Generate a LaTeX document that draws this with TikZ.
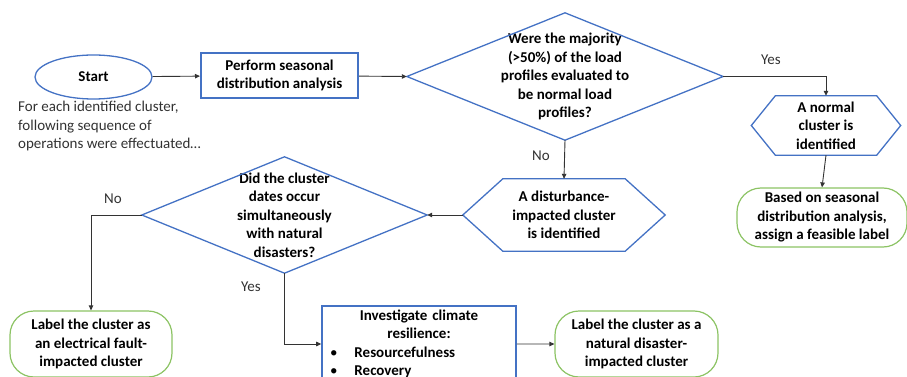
\documentclass[tikz,border=0pt]{standalone}
\usepackage{fontspec}
\setmainfont{Carlito}
\usetikzlibrary{arrows.meta,positioning,shapes.geometric}

\definecolor{flowblue}{RGB}{68,114,196}
\definecolor{flowgreen}{RGB}{140,195,100}
\definecolor{notegray}{RGB}{50,50,50}

\newcommand{\hexframe}[2]{\draw[blueline] (#1.west) -- ([xshift=#2]#1.north west) -- ([xshift=-#2]#1.north east) -- (#1.east) -- ([xshift=-#2]#1.south east) -- ([xshift=#2]#1.south west) -- cycle;}
\newcommand{\diamframe}[1]{\draw[blueline] (#1.west) -- (#1.north) -- (#1.east) -- (#1.south) -- cycle;}

\begin{document}
\begin{tikzpicture}[x=1pt,y=-1pt,
  txt/.style={font=\bfseries\fontsize{15}{18.5}\selectfont,align=center,inner sep=0pt},
  blueline/.style={draw=flowblue,line width=1.3pt},
  term/.style={txt,ellipse,blueline,minimum width=117pt,minimum height=44pt},
  proc/.style={txt,rectangle,draw=flowblue,line width=2pt,inner sep=4pt},
  decide/.style={txt,rectangle},
  outcome/.style={txt,draw=flowgreen,line width=1.2pt,rounded corners=24pt},
  flow/.style={-{Triangle[length=5pt,width=4.5pt]},line width=0.9pt,black!80},
  lbl/.style={font=\fontsize{15}{18.5}\selectfont,text=notegray,inner sep=0pt}]

  \useasboundingbox (0,0) rectangle (907,377);
  \clip (0,0) rectangle (907,377);

  \node[term] (start) at (93.5,77) {Start};
  \node[lbl,align=left,anchor=north west] (note) at (18,101) {For each identified cluster,\\following sequence of\\operations were effectuated\ldots};
  \node[proc,minimum width=157pt,minimum height=45pt] (seasonal) at (279.5,75.5) {Perform seasonal\\distribution analysis};

  \node[decide,minimum width=316pt,minimum height=127pt] (majority) at (565,76.5) {Were the majority\\(>50\%) of the load\\profiles evaluated to\\be normal load\\profiles?};
  \diamframe{majority}

  \node[txt,minimum width=149pt,minimum height=59pt] (normal) at (826,125.5) {A normal\\cluster is\\identified};
  \hexframe{normal}{24pt}
  \node[outcome,minimum width=170pt,minimum height=59pt] (feasible) at (822,217.5) {Based on seasonal\\distribution analysis,\\assign a feasible label};

  \node[txt,minimum width=202pt,minimum height=72pt] (disturb) at (564,215) {A disturbance-\\impacted cluster\\is identified};
  \hexframe{disturb}{40pt}

  \node[decide,minimum width=285pt,minimum height=116pt] (disaster) at (284.5,215) {Did the cluster\\dates occur\\simultaneously\\with natural\\disasters?};
  \diamframe{disaster}

  \node[outcome,minimum width=162pt,minimum height=66pt] (fault) at (91,344) {Label the cluster as\\an electrical fault-\\impacted cluster};
  \node[proc,line width=1.6pt,anchor=north,minimum width=194pt,text width=186pt] (resilience) at (419,305) {Investigate climate\\resilience:\\\makebox[186pt][l]{\hspace{4pt}{\mdseries\textbullet}\hspace{17pt}Resourcefulness}\\\makebox[186pt][l]{\hspace{4pt}{\mdseries\textbullet}\hspace{17pt}Recovery}};
  \node[outcome,minimum width=163pt,minimum height=66pt] (natural) at (636.5,344) {Label the cluster as a\\natural disaster-\\impacted cluster};

  \draw[flow] (start) -- (seasonal);
  \draw[flow] (seasonal) -- (majority.west);
  \draw[flow] (majority.east) -| (normal.north);
  \draw[flow] (majority.south) -- (disturb.north);
  \draw[flow] (normal.south) -- (feasible.north);
  \draw[flow] (disturb.west) -- (disaster.east);
  \draw[flow] (disaster.west) -| (fault.north);
  \draw[flow] (disaster.south) |- (resilience.west);
  \draw[flow] (resilience.east) -- (natural.west);

  \node[lbl] (yes1) at (771,60) {Yes};
  \node[lbl] (no1) at (541,156) {No};
  \node[lbl] (no2) at (113,199) {No};
  \node[lbl] (yes2) at (251,287) {Yes};
\end{tikzpicture}
\end{document}
